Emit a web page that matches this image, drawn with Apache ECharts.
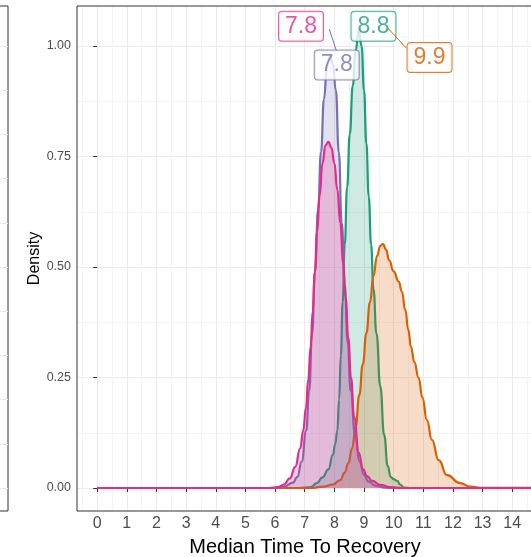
<!DOCTYPE html>
<html>
<head>
<meta charset="utf-8">
<script src="https://cdn.jsdelivr.net/npm/echarts@6/dist/echarts.min.js"></script>
<style>html,body{margin:0;padding:0;background:#fff}#c{width:531px;height:557px}</style>
</head>
<body>
<div id="c"></div>
<script>
// ---- data ----
const groupColors = ['#1B9E77', '#D95F02', '#7570B3', '#E7298A'];
const greenDensity = [[0,0],[6.8,0],[7.2,0.002],[7.41,0.011],[7.6,0.024],[7.8,0.042],[7.95,0.075],[8.03,0.1],[8.1,0.13],[8.16,0.2],[8.22,0.3],[8.28,0.42],[8.35,0.55],[8.43,0.68],[8.52,0.8],[8.62,0.91],[8.72,0.99],[8.82,1.037],[8.92,1.0],[9.0,0.9],[9.08,0.78],[9.16,0.66],[9.24,0.55],[9.32,0.45],[9.42,0.35],[9.55,0.23],[9.68,0.12],[9.8,0.05],[9.9,0.025],[10.0,0.02],[10.12,0.016],[10.22,0.008],[10.35,0.001],[10.6,0],[15,0]];
const orangeDensity = [[0,0],[7.2,0],[7.63,0.003],[7.95,0.008],[8.2,0.018],[8.35,0.035],[8.47,0.056],[8.6,0.09],[8.72,0.14],[8.84,0.21],[8.96,0.28],[9.08,0.35],[9.2,0.42],[9.32,0.48],[9.44,0.525],[9.55,0.548],[9.64,0.552],[9.74,0.54],[9.85,0.515],[10.0,0.49],[10.17,0.467],[10.28,0.444],[10.39,0.403],[10.5,0.357],[10.58,0.32],[10.7,0.285],[10.84,0.25],[10.97,0.205],[11.12,0.154],[11.29,0.109],[11.52,0.063],[11.8,0.029],[12.25,0.011],[12.58,0.003],[13,0.0005],[15,0]];
const purpleDensity = [[0,0],[6.0,0],[6.3,0.003],[6.6,0.012],[6.75,0.025],[6.9,0.06],[7.05,0.13],[7.15,0.22],[7.25,0.35],[7.35,0.49],[7.45,0.63],[7.55,0.76],[7.65,0.88],[7.75,0.955],[7.85,0.978],[7.95,0.96],[8.05,0.9],[8.15,0.76],[8.25,0.6],[8.35,0.46],[8.45,0.33],[8.55,0.22],[8.7,0.12],[8.85,0.06],[9.0,0.03],[9.15,0.015],[9.4,0.005],[9.7,0.001],[10,0],[15,0]];
const pinkDensity = [[0,0],[5.8,0],[6.1,0.002],[6.3,0.008],[6.5,0.022],[6.68,0.048],[6.85,0.09],[6.95,0.13],[7.04,0.18],[7.12,0.245],[7.2,0.32],[7.27,0.4],[7.34,0.49],[7.42,0.58],[7.5,0.66],[7.6,0.735],[7.7,0.775],[7.8,0.783],[7.9,0.77],[8.0,0.735],[8.1,0.675],[8.2,0.6],[8.3,0.51],[8.38,0.43],[8.47,0.34],[8.56,0.25],[8.67,0.16],[8.82,0.08],[8.97,0.042],[9.1,0.027],[9.28,0.016],[9.55,0.007],[9.9,0.002],[10.3,0],[15,0]];
const densities = [greenDensity, orangeDensity, purpleDensity, pinkDensity];

const labelTexts = ['8.8', '9.9', '7.8', '7.8'];
const labelPositions = [[9.32, 1.0448], [11.21, 0.974], [8.08, 0.957], [6.876, 1.0448]];
const segmentGroups = [2, 1];
const segmentCoords = [[[7.83, 1.038], [8.065, 0.99]], [[9.81, 1.040], [10.43, 0.995]]];

const xMajor = [0,1,2,3,4,5,6,7,8,9,10,11,12,13,14];
const xMinor = [-0.5,0.5,1.5,2.5,3.5,4.5,5.5,6.5,7.5,8.5,9.5,10.5,11.5,12.5,13.5,14.5];
const yMajor = [0, 0.25, 0.5, 0.75, 1];
const yMinor = [0.125, 0.375, 0.625, 0.875];
const leftPanelLines = [0,1,2,3,4,5,6,7,8,9,10];

// ---- chart ----
const chart = echarts.init(document.getElementById('c'), null, {renderer: 'canvas'});
const FONT = 'Liberation Sans, Arial, sans-serif';
const hexA = (hex, a) => {
  const n = parseInt(hex.slice(1), 16);
  return `rgba(${(n>>16)&255},${(n>>8)&255},${n&255},${a})`;
};

const series = densities.map((d, i) => ({
  type: 'line', xAxisIndex: 0, yAxisIndex: 0,
  data: d, showSymbol: false, symbol: 'none',
  smooth: 0.5, smoothMonotone: 'x',
  lineStyle: {color: groupColors[i], width: 2.2},
  areaStyle: {color: hexA(groupColors[i], 0.3)},
  z: 2 + i * 0.01, silent: true
}));

series.push({
  type: 'scatter', xAxisIndex: 0, yAxisIndex: 0, symbolSize: 0, z: 5,
  data: labelPositions.map((p, i) => ({
    value: p,
    label: {
      show: true, position: 'inside', formatter: labelTexts[i],
      color: groupColors[i], fontSize: 23, lineHeight: 23, fontFamily: FONT,
      backgroundColor: '#fff', borderColor: groupColors[i], borderWidth: 1,
      borderRadius: 3, padding: [3, 6, 3, 6]
    }
  }))
});

series.push({
  type: 'lines', coordinateSystem: 'cartesian2d', xAxisIndex: 0, yAxisIndex: 0, z: 6,
  data: segmentCoords.map((c, i) => ({coords: c, lineStyle: {color: groupColors[segmentGroups[i]], width: 1, opacity: 1}})),
  lineStyle: {width: 1, opacity: 1}
});

// dummy series for left panel
series.push({type: 'line', xAxisIndex: 2, yAxisIndex: 2, data: [], silent: true});

const option = {
  animation: false,
  backgroundColor: '#fff',
  textStyle: {fontFamily: FONT},
  grid: [
    {left: 77, width: 456, top: 6, bottom: 46, show: true, borderColor: '#333333', borderWidth: 1,
     backgroundColor: 'transparent', z: 10, containLabel: false, outerBoundsMode: 'none'},
    {left: -200, width: 208, top: 6, bottom: 46, show: true, borderColor: '#333333', borderWidth: 1,
     backgroundColor: 'transparent', containLabel: false, outerBoundsMode: 'none'}
  ],
  xAxis: [
    {type: 'value', gridIndex: 0, min: -0.68, max: 14.7,
     axisLine: {show: false},
     axisTick: {show: true, length: 4, lineStyle: {color: '#333333'}, customValues: xMajor},
     axisLabel: {customValues: xMajor, fontSize: 16, color: '#4D4D4D', margin: 5, fontFamily: FONT},
     splitLine: {show: true, lineStyle: {color: '#EBEBEB', width: 1}},
     name: 'Median Time To Recovery', nameLocation: 'middle', nameGap: 26, nameMoveOverlap: false,
     nameTextStyle: {fontSize: 20, color: '#000', fontFamily: FONT}},
    {type: 'value', gridIndex: 0, min: -0.68, max: 14.7, position: 'bottom',
     axisLine: {show: false}, axisTick: {show: false, customValues: xMinor},
     axisLabel: {show: false, customValues: xMinor},
     splitLine: {show: true, lineStyle: {color: '#F4F4F4', width: 1}}},
    {type: 'value', gridIndex: 1, min: 0, max: 1, show: false}
  ],
  yAxis: [
    {type: 'value', gridIndex: 0, min: -0.052, max: 1.0905,
     axisLine: {show: false},
     axisTick: {show: true, length: 4, lineStyle: {color: '#333333'}, customValues: yMajor},
     axisLabel: {customValues: yMajor, fontSize: 12.5, color: '#4D4D4D', margin: 6, fontFamily: FONT,
                 formatter: v => v.toFixed(2)},
     splitLine: {show: true, lineStyle: {color: '#EBEBEB', width: 1}},
     name: 'Density', nameLocation: 'middle', nameGap: 34, nameRotate: 90, nameMoveOverlap: false,
     nameTextStyle: {fontSize: 16, color: '#000', fontFamily: FONT}},
    {type: 'value', gridIndex: 0, min: -0.052, max: 1.0905,
     axisLine: {show: false}, axisTick: {show: false, customValues: yMinor},
     axisLabel: {show: false, customValues: yMinor},
     splitLine: {show: true, lineStyle: {color: '#F4F4F4', width: 1}}},
    {type: 'value', gridIndex: 1, min: -0.52, max: 10.905,
     axisLine: {show: false}, axisTick: {show: false, customValues: leftPanelLines},
     axisLabel: {show: false, customValues: leftPanelLines},
     splitLine: {show: true, lineStyle: {color: '#EBEBEB', width: 1}}}
  ],
  series: series
};
chart.setOption(option);
</script>
</body>
</html>
